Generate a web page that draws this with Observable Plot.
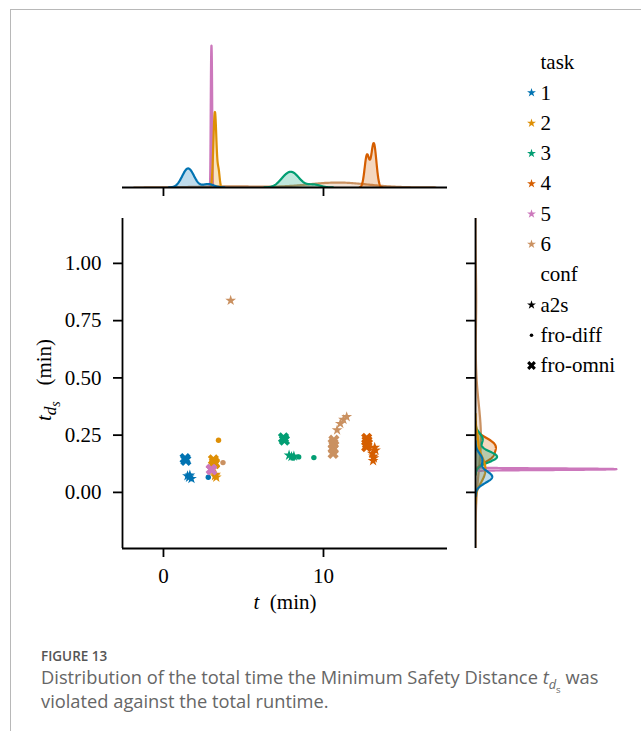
<!DOCTYPE html>
<html>
<head>
<meta charset="utf-8">
<script src="https://cdn.jsdelivr.net/npm/d3@7"></script>
<script src="https://cdn.jsdelivr.net/npm/@observablehq/plot@0.6"></script>
<style>
html,body{margin:0;padding:0;background:#fff;}
#root{position:relative;width:641px;height:731px;overflow:hidden;background:#fff;}
.abs{position:absolute;}
.serif{font-family:"Liberation Serif","Times New Roman",serif;color:#000;font-size:21px;white-space:nowrap;line-height:1;}
.cap{font-family:"Open Sans",sans-serif;color:#666;white-space:nowrap;}
sub{line-height:0;}
</style>
</head>
<body>
<div id="root">
  <div class="abs" style="left:10px;top:9px;width:640px;height:730px;border-top:1.5px solid #b8b8b8;border-left:1.5px solid #b8b8b8;"></div>
  <div id="topPanel" class="abs" style="left:0;top:20px"></div>
  <div id="mainPanel" class="abs" style="left:0;top:200px"></div>
  <div id="rightPanel" class="abs" style="left:460px;top:200px"></div>
  <div id="legendPanel" class="abs" style="left:500px;top:40px"></div>
  <div class="abs serif" style="left:45px;top:380px;transform:translate(-50%,-50%) rotate(-90deg);"><i>t</i><sub style="font-size:82%"><i>d</i><sub style="font-size:80%"><i>s</i></sub></sub>&nbsp;&nbsp;&nbsp;(min)</div>
  <div class="abs serif" style="left:285px;top:602px;transform:translate(-50%,-50%);"><i>t</i>&nbsp;&nbsp;(min)</div>
  <div class="abs cap" style="left:41px;top:649px;font-size:13.5px;line-height:14px;font-weight:600;color:#555;">FIGURE 13</div>
  <div class="abs cap" style="left:41px;top:665px;font-size:18.3px;line-height:23px;">Distribution of the total time the Minimum Safety Distance <i>t</i><sub style="font-size:70%"><i>d</i><sub style="font-size:75%">s</sub></sub> was<br>violated against the total runtime.</div>
</div>
<script>
// ---------- data ----------
const tasks = ["1", "2", "3", "4", "5", "6"];
const taskColors = ["#0173B2", "#DE8F05", "#029E73", "#D55E00", "#CC78BC", "#CA9161"];
const confs = ["a2s", "fro-diff", "fro-omni"];

const pointTask = [
  "1","1","1","1","1","1","1",
  "2","2","2","2","2","2","2",
  "3","3","3","3","3","3","3","3",
  "4","4","4","4","4","4","4","4","4","4",
  "5","5","5","5","5",
  "6","6","6","6","6","6","6","6","6","6"
];
const pointConf = [
  "fro-omni","fro-omni","a2s","a2s","a2s","a2s","fro-diff",
  "fro-omni","fro-omni","fro-omni","a2s","a2s","a2s","fro-diff",
  "fro-omni","fro-omni","a2s","a2s","a2s","fro-diff","fro-diff","fro-diff",
  "fro-omni","fro-omni","fro-omni","fro-omni","a2s","a2s","a2s","a2s","a2s","a2s",
  "fro-omni","fro-omni","a2s","a2s","a2s",
  "a2s","a2s","a2s","a2s","a2s","fro-diff","fro-omni","fro-omni","fro-omni","fro-omni"
];
const pointT = [
  1.35, 1.40, 1.50, 1.60, 1.75, 1.65, 2.80,
  3.12, 3.18, 3.20, 3.22, 3.26, 3.30, 3.44,
  7.50, 7.56, 7.85, 8.00, 8.15, 8.08, 8.45, 9.40,
  12.70, 12.72, 12.75, 12.70, 13.05, 13.15, 13.10, 13.20, 13.25, 13.12,
  2.98, 3.02, 2.96, 3.04, 3.00,
  4.20, 10.85, 11.05, 11.25, 11.45, 3.72, 10.60, 10.62, 10.60, 10.65
];
const pointTds = [
  0.148, 0.140, 0.072, 0.066, 0.060, 0.075, 0.066,
  0.142, 0.130, 0.125, 0.072, 0.078, 0.066, 0.228,
  0.238, 0.228, 0.162, 0.156, 0.158, 0.150, 0.155, 0.152,
  0.236, 0.224, 0.212, 0.200, 0.170, 0.150, 0.138, 0.196, 0.184, 0.158,
  0.101, 0.098, 0.103, 0.100, 0.104,
  0.838, 0.272, 0.300, 0.318, 0.330, 0.130, 0.170, 0.190, 0.212, 0.228
];

const xDomain = [-2.56, 17.75];
const yDomain = [-0.245, 1.196];
const xTicks = [0, 10];
const yTicks = [0, 0.25, 0.5, 0.75, 1.0];
const legendLabels = ["task", "1", "2", "3", "4", "5", "6", "conf", "a2s", "fro-diff", "fro-omni"];

// ---------- helpers ----------
const points = pointT.map((t, i) => ({task: pointTask[i], conf: pointConf[i], t, tds: pointTds[i]}));
const N = points.length;

// filled "X" marker (matplotlib style)
const symbolXFilled = {
  draw(context, size) {
    const s = Math.sqrt(size / Math.PI) / 2;
    const pts = [[-1,-2],[0,-1],[1,-2],[2,-1],[1,0],[2,1],[1,2],[0,1],[-1,2],[-2,1],[-1,0],[-2,-1]];
    pts.forEach(([a, b], i) => i ? context.lineTo(a * s, b * s) : context.moveTo(a * s, b * s));
    context.closePath();
  }
};
const confSymbol = {"a2s": "star", "fro-diff": "circle", "fro-omni": symbolXFilled};
const confR = {"a2s": 3.4, "fro-diff": 2.7, "fro-omni": 5.6};

// gaussian KDE (scott bandwidth, cut=3, gridsize 200, common_norm)
function kdeCurve(values, frac, task) {
  const n = values.length;
  const bw = d3.deviation(values) * Math.pow(n, -0.2);
  const lo = d3.min(values) - 3 * bw, hi = d3.max(values) + 3 * bw;
  return d3.range(200).map(i => {
    const g = lo + (hi - lo) * i / 199;
    const d = frac * d3.sum(values, v => Math.exp(-0.5 * ((g - v) / bw) ** 2)) / (n * bw * Math.sqrt(2 * Math.PI));
    return {g, d, task};
  });
}
const curvesT = tasks.map(k => {
  const vals = points.filter(p => p.task === k).map(p => p.t);
  return kdeCurve(vals, vals.length / N, k);
});
const curvesY = tasks.map(k => {
  const vals = points.filter(p => p.task === k).map(p => p.tds);
  return kdeCurve(vals, vals.length / N, k);
});
const maxT = d3.max(curvesT.flat(), d => d.d);
const maxY = d3.max(curvesY.flat(), d => d.d);

const colorScale = {domain: tasks, range: taskColors};
const fontStyle = {fontFamily: "'Liberation Serif', 'Times New Roman', serif", fontSize: "21px", color: "black", background: "transparent", overflow: "visible"};
const SW = 1.8;

// ---------- main scatter ----------
const mainPlot = Plot.plot({
  width: 460, height: 420,
  marginLeft: 122, marginRight: 13, marginTop: 18, marginBottom: 72,
  x: {domain: xDomain},
  y: {domain: yDomain},
  color: colorScale,
  style: fontStyle,
  marks: [
    Plot.ruleX([xDomain[0]], {stroke: "black", strokeWidth: SW}),
    Plot.ruleY([yDomain[0]], {stroke: "black", strokeWidth: SW}),
    Plot.axisX({ticks: xTicks, tickSize: 9, tickPadding: 11, strokeWidth: SW, label: null, fontSize: 21}),
    Plot.axisY({ticks: yTicks, tickSize: 9, tickPadding: 12, strokeWidth: SW, label: null, tickFormat: d3.format(".2f"), fontSize: 21}),
    ...confs.map(c => Plot.dot(points.filter(p => p.conf === c), {
      x: "t", y: "tds", fill: "task", stroke: "none", symbol: confSymbol[c], r: confR[c]
    }))
  ]
});
document.getElementById("mainPanel").appendChild(mainPlot);

// ---------- top marginal ----------
const topMarks = [];
for (let i = tasks.length - 1; i >= 0; i--) {
  topMarks.push(Plot.areaY(curvesT[i], {x: "g", y: "d", fill: taskColors[i], fillOpacity: 0.25, clip: true}));
  topMarks.push(Plot.lineY(curvesT[i], {x: "g", y: "d", stroke: taskColors[i], strokeWidth: 2.2, clip: true}));
}
const topPlot = Plot.plot({
  width: 460, height: 180,
  marginLeft: 122, marginRight: 13, marginTop: 18, marginBottom: 13,
  x: {domain: xDomain},
  y: {domain: [0, maxT * 1.05], axis: null},
  style: fontStyle,
  marks: [
    ...topMarks,
    Plot.ruleY([0], {stroke: "black", strokeWidth: SW}),
    Plot.axisX({ticks: xTicks, tickSize: 9, strokeWidth: SW, tickFormat: () => "", label: null})
  ]
});
document.getElementById("topPanel").appendChild(topPlot);

// ---------- right marginal ----------
const rightMarks = [];
for (let i = tasks.length - 1; i >= 0; i--) {
  rightMarks.push(Plot.areaX(curvesY[i], {y: "g", x: "d", fill: taskColors[i], fillOpacity: 0.25, clip: true}));
  rightMarks.push(Plot.lineX(curvesY[i], {y: "g", x: "d", stroke: taskColors[i], strokeWidth: 2.2, clip: true}));
}
const rightPlot = Plot.plot({
  width: 181, height: 420,
  marginLeft: 15, marginRight: 18, marginTop: 18, marginBottom: 72,
  x: {domain: [0, maxY * 1.05], axis: null},
  y: {domain: yDomain},
  style: fontStyle,
  marks: [
    ...rightMarks,
    Plot.ruleX([0], {stroke: "black", strokeWidth: SW}),
    Plot.axisY({anchor: "left", ticks: yTicks, tickSize: 9, strokeWidth: SW, tickFormat: () => "", label: null})
  ]
});
document.getElementById("rightPanel").appendChild(rightPlot);

// ---------- legend ----------
const legendEntries = legendLabels.map((label, i) => ({
  label, i,
  kind: tasks.includes(label) ? "task" : confs.includes(label) ? "conf" : "header"
}));
const legendPlot = Plot.plot({
  width: 141, height: 345, margin: 0,
  x: {domain: [0, 1], range: [0, 141], axis: null},
  y: {domain: [0, legendLabels.length - 1], range: [22, 325], axis: null},
  color: colorScale,
  style: fontStyle,
  marks: [
    Plot.text(legendEntries, {x: 0, y: "i", dx: 40, text: "label", textAnchor: "start", fontSize: 21, fill: "black"}),
    Plot.dot(legendEntries.filter(e => e.kind === "task"), {x: 0, y: "i", dx: 31, fill: "label", stroke: "none", symbol: "star", r: 2.8}),
    ...confs.map(c => Plot.dot(legendEntries.filter(e => e.label === c), {
      x: 0, y: "i", dx: 31, fill: "black", stroke: "none", symbol: confSymbol[c],
      r: c === "a2s" ? 2.8 : c === "fro-diff" ? 1.8 : 4.4
    }))
  ]
});
document.getElementById("legendPanel").appendChild(legendPlot);
</script>
</body>
</html>
